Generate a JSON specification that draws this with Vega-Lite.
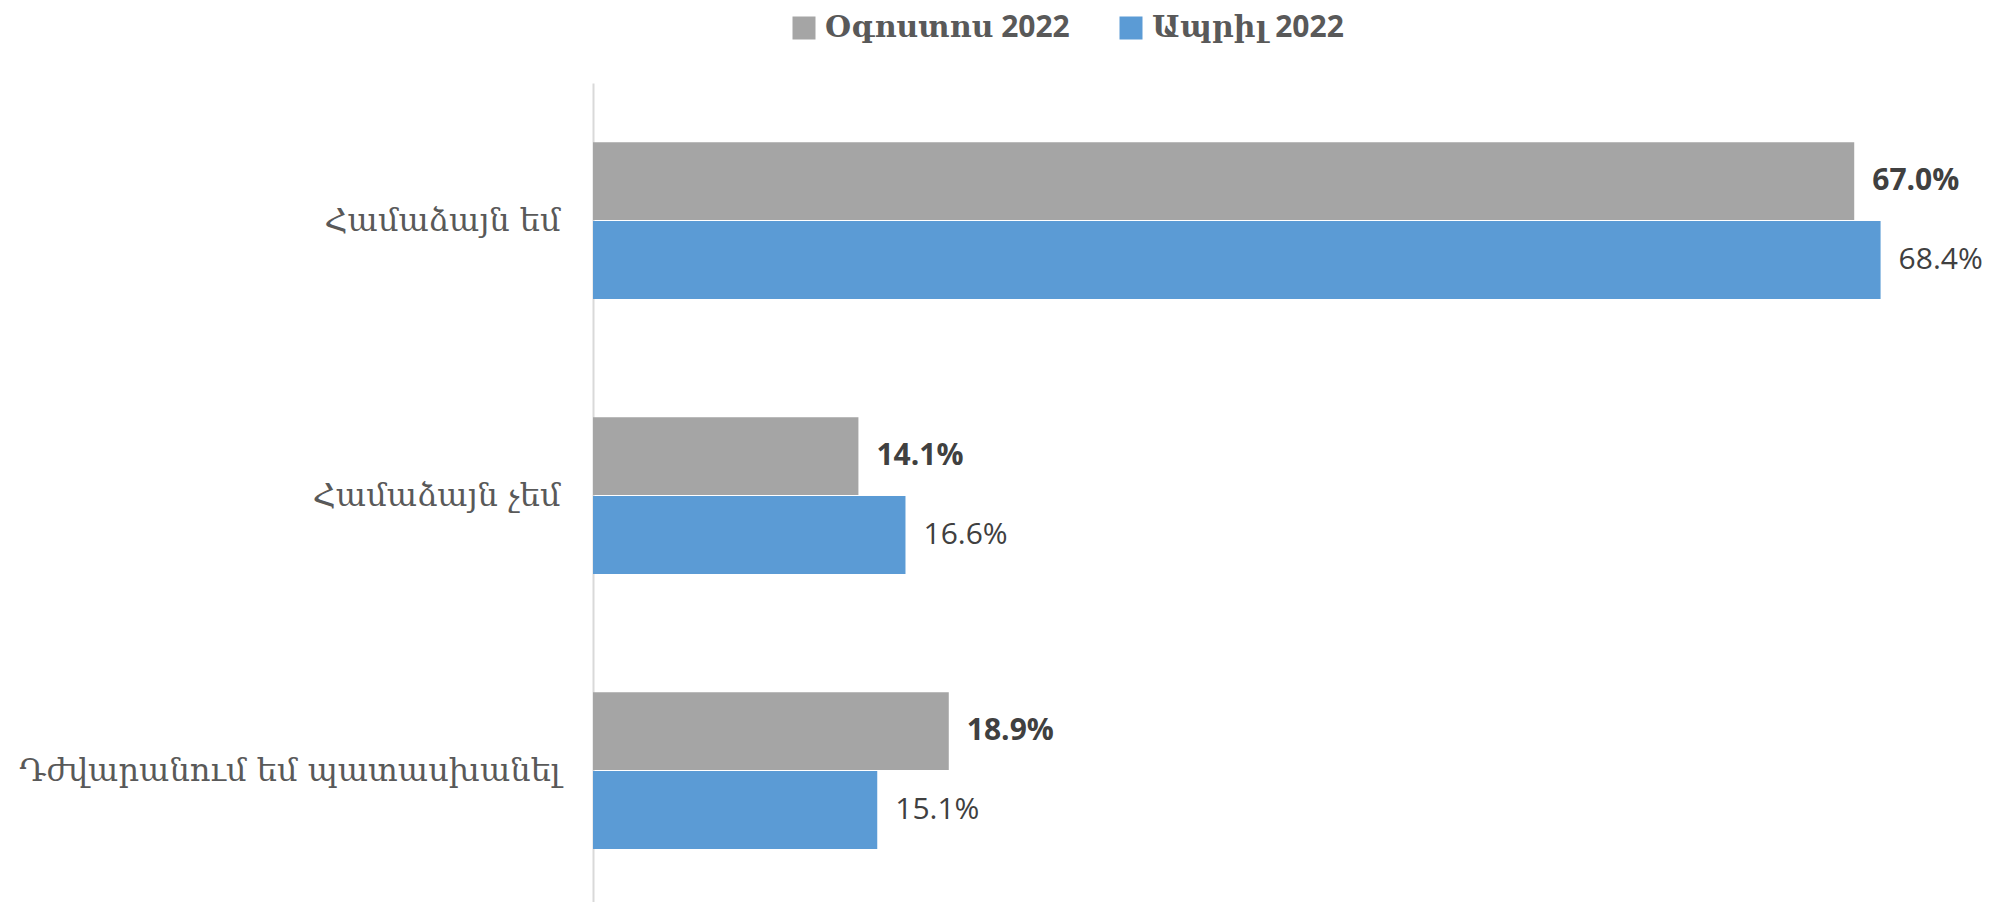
{
  "$schema": "https://vega.github.io/schema/vega-lite/v6.json",
  "width": 1393,
  "height": 825,
  "autosize": {"type": "none"},
  "padding": {"left": 593, "top": 83, "right": 0, "bottom": 0},
  "background": "white",
  "config": {"view": {"stroke": null}, "font": "Open Sans"},
  "data": {"values": [
    {"cat": "Համաձայն եմ", "series": "Օգոստոս 2022", "value": 0.670},
    {"cat": "Համաձայն եմ", "series": "Ապրիլ 2022", "value": 0.684},
    {"cat": "Համաձայն չեմ", "series": "Օգոստոս 2022", "value": 0.141},
    {"cat": "Համաձայն չեմ", "series": "Ապրիլ 2022", "value": 0.166},
    {"cat": "Դժվարանում եմ պատասխանել", "series": "Օգոստոս 2022", "value": 0.189},
    {"cat": "Դժվարանում եմ պատասխանել", "series": "Ապրիլ 2022", "value": 0.151}
  ]},
  "encoding": {
    "y": {
      "field": "cat", "type": "nominal", "sort": null,
      "scale": {"paddingInner": 0.43, "paddingOuter": 0.215},
      "axis": {
        "title": null, "ticks": false, "labelFont": "DejaVu Serif", "labelFontSize": 32,
        "labelColor": "#595959", "labelPadding": 33, "labelLimit": 0,
        "domainColor": "#d9d9d9", "domainWidth": 2
      }
    },
    "yOffset": {"field": "series", "sort": ["Օգոստոս 2022", "Ապրիլ 2022"], "scale": {"paddingInner": 0.015}},
    "x": {"field": "value", "type": "quantitative", "scale": {"domain": [0, 0.74], "nice": false}, "axis": null}
  },
  "layer": [
    {
      "mark": {"type": "bar"},
      "encoding": {
        "color": {
          "field": "series", "type": "nominal",
          "sort": ["Օգոստոս 2022", "Ապրիլ 2022"],
          "scale": {"domain": ["Օգոստոս 2022", "Ապրիլ 2022"], "range": ["#A5A5A5", "#5B9BD5"]},
          "legend": {
            "title": null, "orient": "none", "legendX": 196, "legendY": -70,
            "direction": "horizontal", "symbolType": "square", "symbolSize": 529,
            "symbolStrokeWidth": 0, "labelFont": "Open Sans, DejaVu Serif", "labelFontSize": 30,
            "labelFontWeight": "bold", "labelColor": "#595959", "labelLimit": 0,
            "columnPadding": 46, "labelOffset": 6
          }
        }
      }
    },
    {
      "transform": [{"filter": "datum.series === 'Օգոստոս 2022'"}],
      "mark": {"type": "text", "align": "left", "baseline": "middle", "dx": 18, "fontSize": 30, "fontWeight": "bold", "color": "#404040"},
      "encoding": {"text": {"field": "value", "type": "quantitative", "format": ".1%"}}
    },
    {
      "transform": [{"filter": "datum.series === 'Ապրիլ 2022'"}],
      "mark": {"type": "text", "align": "left", "baseline": "middle", "dx": 18, "fontSize": 30, "color": "#404040"},
      "encoding": {"text": {"field": "value", "type": "quantitative", "format": ".1%"}}
    }
  ]
}
